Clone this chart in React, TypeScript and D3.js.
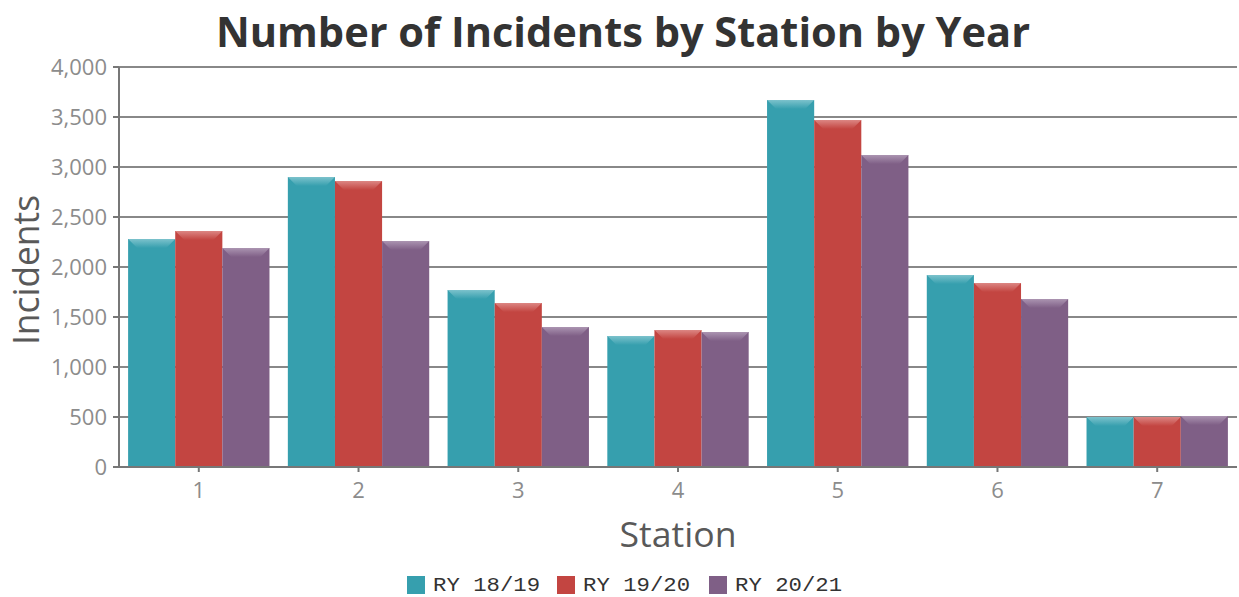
import React from 'react';
import * as d3 from 'd3';

const stations = ['1', '2', '3', '4', '5', '6', '7'];
const seriesNames = ['RY 18/19', 'RY 19/20', 'RY 20/21'];
const ry1819 = [2280, 2900, 1770, 1310, 3670, 1920, 500];
const ry1920 = [2360, 2860, 1640, 1370, 3470, 1840, 500];
const ry2021 = [2190, 2260, 1400, 1350, 3120, 1680, 510];
const yTicks = [0, 500, 1000, 1500, 2000, 2500, 3000, 3500, 4000];
const colors = ['#369fae', '#c34541', '#7f5f86'];
const lightColors = ['#7cc2cc', '#dc8683', '#ab94b1'];

const W = 1239;
const H = 597;
const margin = { top: 67, right: 2, bottom: 130, left: 119 };
const font = "'Open Sans', sans-serif";

const App: React.FC = () => {
  const series = [ry1819, ry1920, ry2021];

  const x = d3.scaleBand<string>()
    .domain(stations)
    .range([margin.left, W - margin.right])
    .paddingInner(0.115)
    .paddingOuter(0.057);

  const x1 = d3.scaleBand<number>()
    .domain([0, 1, 2])
    .range([0, x.bandwidth()]);

  const y = d3.scaleLinear()
    .domain([0, 4000])
    .range([H - margin.bottom, margin.top]);

  const fmt = d3.format(',');
  const bevel = 9;

  return (
    <svg width={W} height={H} style={{ position: 'absolute', left: 0, top: 0, background: '#fff' }}>
      <defs>
        {colors.map((c, i) => (
          <linearGradient key={i} id={`bev${i}`} x1="0" y1="0" x2="0" y2="1">
            <stop offset="0%" stopColor={lightColors[i]} />
            <stop offset="100%" stopColor={c} />
          </linearGradient>
        ))}
      </defs>

      <text x={623} y={47} textAnchor="middle" fontFamily={font} fontWeight={700}
        fontSize={41} fill="#333" textLength={814} lengthAdjust="spacingAndGlyphs">
        Number of Incidents by Station by Year
      </text>

      {/* grid */}
      {yTicks.map(t => (
        <g key={t}>
          {t > 0 && (
            <line x1={margin.left} x2={W - margin.right} y1={y(t)} y2={y(t)} stroke="#888" strokeWidth={2} />
          )}
          <line x1={margin.left - 6} x2={margin.left} y1={y(t)} y2={y(t)} stroke="#777" strokeWidth={2} />
          <text x={margin.left - 12} y={y(t)} dy="0.36em" textAnchor="end"
            fontFamily={font} fontSize={22} fill="#8c8c8c">{fmt(t)}</text>
        </g>
      ))}

      {/* bars */}
      {stations.map((s, si) => (
        <g key={s} transform={`translate(${x(s)},0)`}>
          {series.map((vals, k) => {
            const bx = x1(k) as number;
            const bw = x1.bandwidth();
            const top = y(vals[si]);
            const base = y(0);
            return (
              <g key={k}>
                <rect x={bx} y={top} width={bw} height={base - top} fill={colors[k]} />
                <polygon
                  points={`${bx},${top} ${bx + bw},${top} ${bx + bw - bevel},${top + bevel} ${bx + bevel},${top + bevel}`}
                  fill={`url(#bev${k})`} />
              </g>
            );
          })}
        </g>
      ))}

      {/* axes */}
      <line x1={margin.left} x2={margin.left} y1={margin.top} y2={y(0)} stroke="#777" strokeWidth={2} />
      <line x1={margin.left - 6} x2={W - margin.right} y1={y(0)} y2={y(0)} stroke="#777" strokeWidth={2} />
      {stations.map(s => {
        const cx = (x(s) as number) + x.bandwidth() / 2;
        return (
          <g key={s}>
            <line x1={cx} x2={cx} y1={y(0)} y2={y(0) + 5} stroke="#777" strokeWidth={2} />
            <text x={cx} y={y(0) + 31} textAnchor="middle" fontFamily={font}
              fontSize={22} fill="#8c8c8c">{s}</text>
          </g>
        );
      })}

      <text x={678} y={547} textAnchor="middle" fontFamily={font} fontSize={35}
        fill="#595959" textLength={117} lengthAdjust="spacingAndGlyphs">Station</text>
      <text transform={`translate(39,270) rotate(-90)`} textAnchor="middle"
        fontFamily={font} fontSize={36} fill="#595959" textLength={150}
        lengthAdjust="spacingAndGlyphs">Incidents</text>

      {/* legend */}
      {seriesNames.map((n, i) => {
        const lx = [407, 557, 709][i];
        return (
          <g key={n}>
            <rect x={lx} y={576} width={18} height={18} fill={colors[i]} />
            <text x={lx + 26} y={591} fontFamily="'Liberation Mono', 'Courier New', monospace" fontSize={20}
              fill="#333" textLength={107} lengthAdjust="spacingAndGlyphs">{n}</text>
          </g>
        );
      })}
    </svg>
  );
};

export default App;
